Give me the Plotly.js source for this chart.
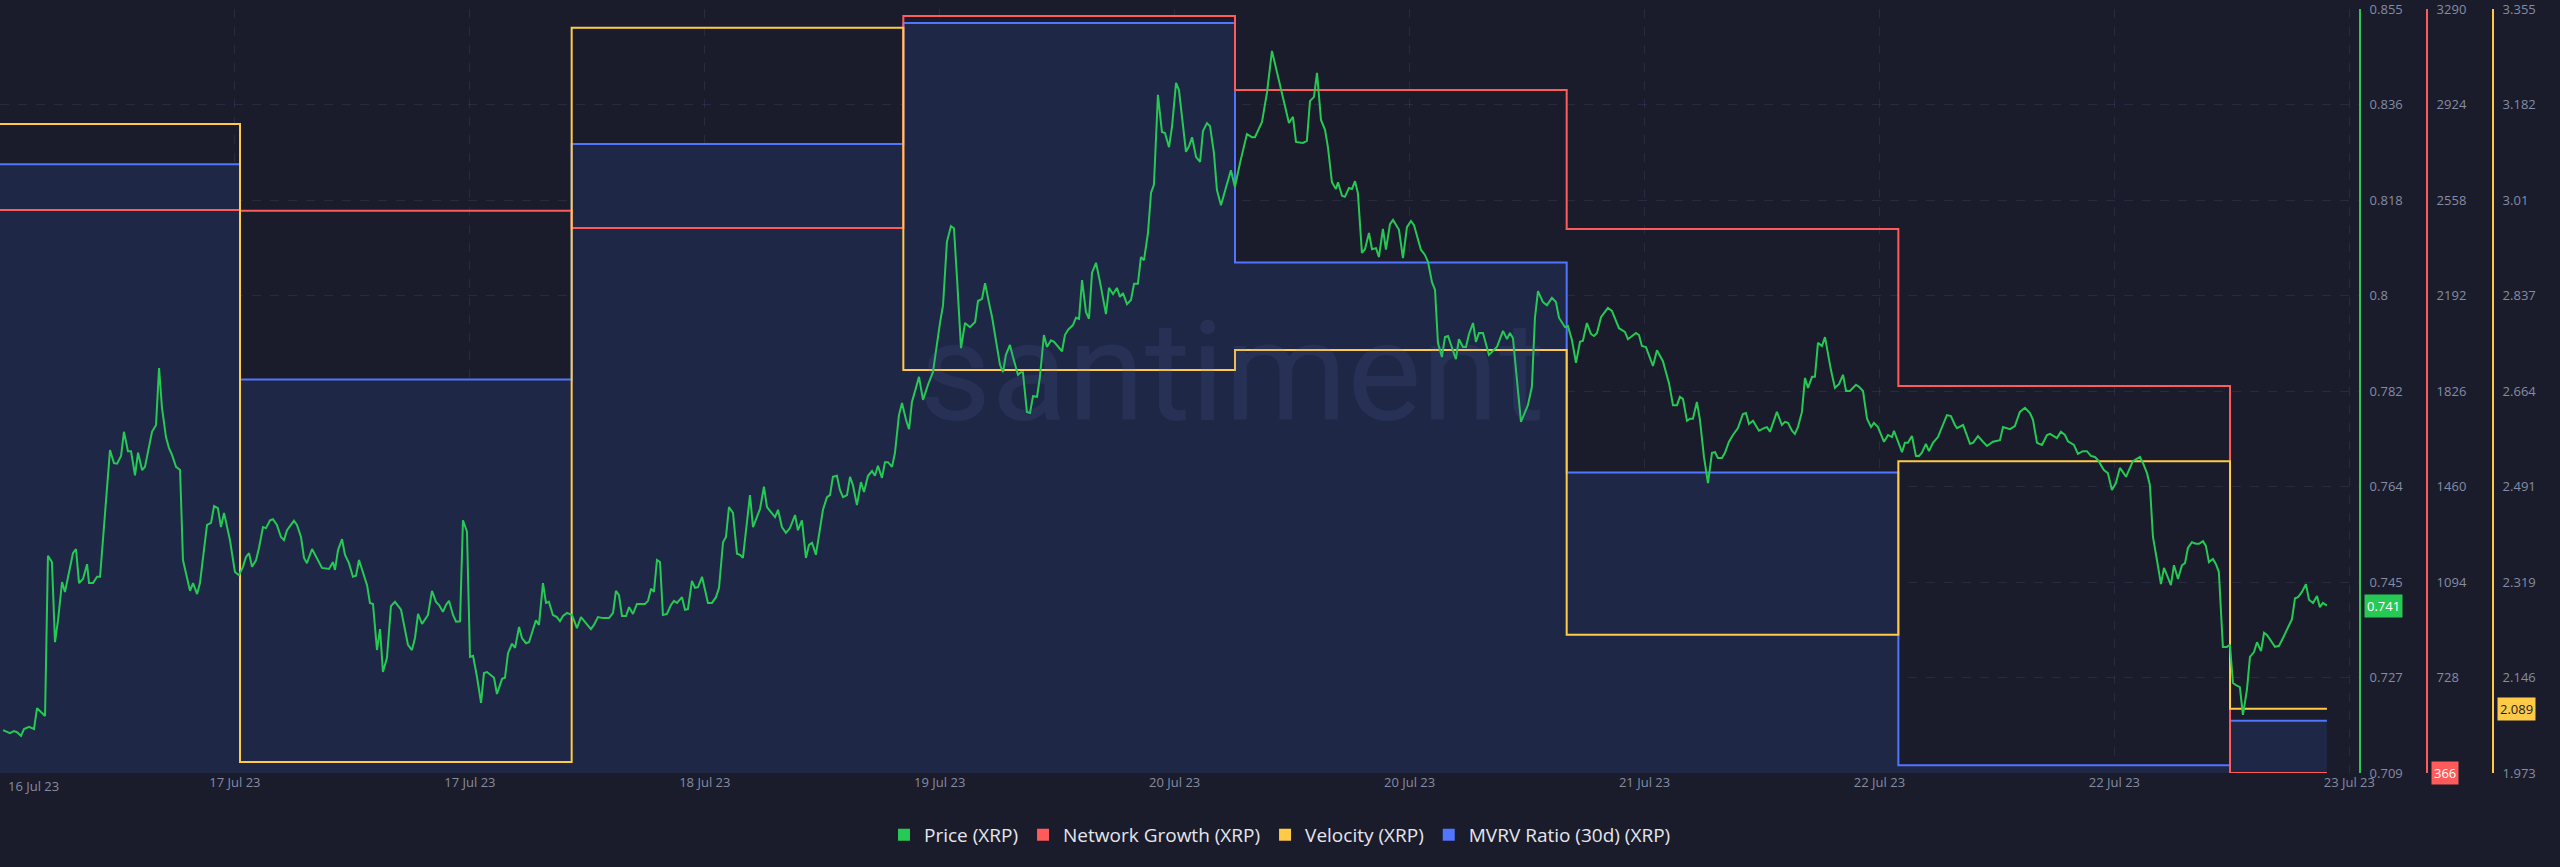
<!DOCTYPE html>
<html>
<head>
<meta charset="utf-8">
<script src="https://cdn.plot.ly/plotly-3.0.1.min.js"></script>
<style>
  html, body { margin: 0; padding: 0; background: #1a1b2b; }
  #chart { width: 2560px; height: 867px; }
</style>
</head>
<body>
<div id="chart"></div>
<script>
// ---------- DATA ----------
// hours after the first visible moment (16 Jul 23, 11:38) for each price sample
const priceHours = [
0.22,0.72,1.01,1.23,1.52,1.74,2.10,2.46,2.68,3.26,
3.47,3.76,3.98,4.20,4.49,4.70,5.28,5.50,5.72,6.01,
6.30,6.44,6.73,7.02,7.24,7.96,8.25,8.47,8.76,8.97,
9.26,9.48,9.77,9.99,10.28,10.49,11.00,11.29,11.51,11.72,
12.01,12.23,12.45,12.74,13.03,13.24,13.75,13.97,14.26,14.47,
14.98,15.27,15.49,15.77,15.99,16.21,16.64,17.00,17.29,17.58,
17.80,18.02,18.24,18.53,18.74,19.03,19.25,19.54,19.75,20.04,
20.33,20.55,20.77,21.27,21.49,21.78,22.00,22.21,22.58,22.87,
23.30,23.81,24.10,24.24,24.46,24.75,24.96,25.25,25.54,25.76,
25.98,26.56,26.77,26.99,27.28,27.50,27.71,28.00,28.29,28.58,
29.02,29.52,29.81,30.03,30.25,30.54,30.97,31.26,31.55,31.77,
32.05,32.27,32.49,32.78,33.00,33.29,33.50,33.79,34.01,34.23,
34.52,34.81,35.02,35.24,35.75,35.96,36.33,36.54,36.76,37.05,
37.27,37.56,37.77,38.06,38.28,38.78,39.00,39.29,39.51,39.72,
40.01,40.30,40.52,40.74,41.03,41.39,41.75,42.04,42.33,42.76,
42.98,43.27,43.63,44.07,44.36,44.57,44.79,45.01,45.30,45.52,
45.80,46.09,46.45,46.67,46.89,47.11,47.32,47.54,47.76,47.97,
48.26,48.55,48.77,48.99,49.35,49.57,49.78,50.07,50.29,50.51,
50.80,51.23,51.52,51.81,52.03,52.32,52.53,52.75,53.04,53.33,
53.55,53.76,54.27,54.49,55.00,55.28,55.50,56.08,56.30,56.58,
56.87,57.16,57.53,57.74,58.03,58.32,58.54,58.76,59.04,59.55,
59.84,60.06,60.27,60.56,60.78,61.00,61.29,61.51,61.72,62.01,
62.30,62.52,62.81,63.10,63.31,63.53,63.82,64.04,64.26,64.55,
64.76,65.05,65.27,65.56,65.78,65.99,66.28,66.50,66.79,67.15,
67.51,67.80,68.02,68.24,68.52,68.81,69.03,69.25,69.54,69.83,
70.19,70.56,70.77,71.06,71.28,71.57,71.79,72.36,72.58,72.79,
73.08,73.30,73.66,73.88,74.02,74.31,74.53,74.75,75.04,75.25,
75.54,75.76,76.05,76.27,76.56,76.85,77.06,77.28,77.64,77.86,
78.08,78.30,78.58,78.80,79.02,79.31,79.60,80.03,80.25,80.54,
80.82,81.04,81.26,81.55,81.84,82.06,82.34,82.56,82.78,83.07,
83.29,83.50,83.79,84.08,84.30,84.59,84.81,85.10,85.31,85.82,
86.04,86.26,86.55,86.84,87.05,87.34,87.56,87.84,88.06,88.35,
89.07,89.36,89.73,90.23,90.59,90.81,91.32,91.68,92.04,92.40,
92.84,93.27,93.56,93.78,94.28,94.57,94.79,95.08,95.30,95.59,
95.88,96.09,96.38,96.67,96.82,97.11,97.32,97.61,97.83,98.05,
98.26,98.55,98.77,99.06,99.28,99.57,99.78,100.07,100.29,100.58,
100.80,101.23,101.52,101.81,102.10,102.32,102.82,103.11,103.33,103.62,
103.84,104.05,104.34,104.56,104.78,105.35,105.57,105.86,106.08,106.30,
106.59,106.80,107.02,107.31,107.74,108.32,108.76,109.05,109.26,109.48,
110.06,110.56,110.85,111.07,111.29,111.65,111.94,112.30,112.59,112.81,
113.24,113.46,113.75,114.04,114.33,114.54,114.83,115.12,115.34,115.56,
115.85,116.35,116.64,117.15,117.58,117.80,118.38,118.60,118.81,119.10,
119.61,119.90,120.33,120.77,121.06,121.35,121.56,121.78,122.07,122.29,
122.50,122.79,123.01,123.30,123.59,123.88,124.10,124.31,124.60,124.82,
125.11,125.40,125.76,126.12,126.34,126.56,126.85,127.28,127.64,127.86,
128.08,128.58,128.94,129.16,129.38,129.67,129.88,130.10,130.39,130.61,
130.83,131.12,131.33,131.55,131.84,132.06,132.49,132.78,133.07,133.36,
133.58,133.86,134.30,134.52,134.81,135.10,135.39,135.60,135.89,136.33,
136.62,136.91,137.05,137.63,137.84,138.06,138.35,138.64,138.86,139.07,
139.36,139.58,139.87,140.23,140.88,141.17,141.46,141.61,142.05,142.55,
142.77,143.13,143.49,143.78,144.21,144.72,144.94,145.44,145.80,146.16,
146.53,146.89,147.11,147.40,147.76,148.12,148.34,148.84,149.13,149.42,
149.64,150.07,150.36,150.72,151.01,151.30,151.59,151.81,152.10,152.24,
152.53,152.82,153.11,153.40,153.62,153.84,154.34,154.85,155.07,155.36,
155.57,155.79,156.08,156.37,156.59,156.80,157.09,157.31,157.60,157.89,
158.11,158.32,158.61,158.90,159.12,159.41,159.62,159.84,160.13,160.35,
160.56,160.85,161.14,161.36,161.58,161.80,162.08,162.30,162.59,162.81,
163.10,163.32,163.61,163.83,164.04,164.62,164.91,165.20,165.49,165.85,
166.07,166.29,166.57,166.86,167.08,167.37,167.66,167.87,168.09,168.38
];
const priceValues = [
.7172,.7166,.7170,.7168,.7161,.7174,.7178,.7174,.7214,.7199,
.7505,.7493,.7340,.7382,.7455,.7436,.7510,.7518,.7453,.7461,
.7489,.7453,.7453,.7465,.7465,.7707,.7682,.7681,.7696,.7742,
.7705,.7705,.7659,.7702,.7669,.7675,.7742,.7755,.7864,.7788,
.7732,.7711,.7698,.7675,.7669,.7497,.7438,.7453,.7432,.7453,
.7564,.7568,.7600,.7596,.7560,.7587,.7535,.7474,.7468,.7484,
.7503,.7510,.7484,.7497,.7520,.7560,.7558,.7573,.7575,.7564,
.7541,.7535,.7554,.7572,.7564,.7541,.7501,.7491,.7518,.7503,
.7482,.7480,.7493,.7478,.7516,.7537,.7507,.7491,.7465,.7467,
.7497,.7449,.7415,.7413,.7325,.7365,.7283,.7310,.7409,.7417,
.7402,.7335,.7325,.7348,.7394,.7375,.7392,.7438,.7417,.7411,
.7398,.7411,.7419,.7392,.7379,.7380,.7573,.7551,.7312,.7314,
.7273,.7224,.7281,.7283,.7272,.7241,.7270,.7272,.7319,.7337,
.7329,.7369,.7348,.7338,.7340,.7382,.7373,.7453,.7415,.7417,
.7392,.7388,.7380,.7390,.7396,.7392,.7367,.7388,.7379,.7365,
.7373,.7388,.7386,.7386,.7396,.7438,.7430,.7390,.7390,.7407,
.7394,.7413,.7413,.7413,.7419,.7442,.7436,.7497,.7493,.7392,
.7394,.7411,.7419,.7415,.7426,.7402,.7403,.7457,.7444,.7445,
.7465,.7415,.7415,.7426,.7444,.7531,.7541,.7598,.7587,.7509,
.7507,.7501,.7621,.7560,.7595,.7637,.7598,.7579,.7593,.7560,
.7549,.7558,.7583,.7554,.7573,.7501,.7526,.7530,.7507,.7593,
.7617,.7621,.7656,.7658,.7631,.7617,.7621,.7656,.7640,.7602,
.7646,.7627,.7658,.7667,.7658,.7677,.7654,.7684,.7684,.7675,
.7702,.7774,.7797,.7765,.7747,.7799,.7826,.7847,.7803,.7832,
.7856,.7912,.7950,.7984,.8105,.8135,.8131,.8036,.7902,.7950,
.7942,.7952,.7992,.7996,.8026,.7988,.7961,.7870,.7856,.7889,
.7908,.7885,.7851,.7856,.7856,.7780,.7778,.7810,.7809,.7847,
.7927,.7904,.7917,.7914,.7904,.7896,.7927,.7937,.7946,.7960,
.7958,.8032,.7971,.7958,.8046,.8065,.8028,.7967,.8017,.8005,
.8017,.8000,.8007,.7986,.7994,.8025,.8025,.8076,.8070,.8122,
.8199,.8214,.8386,.8315,.8313,.8286,.8325,.8409,.8395,.8277,
.8288,.8305,.8267,.8258,.8317,.8332,.8326,.8275,.8204,.8175,
.8242,.8210,.8256,.8311,.8305,.8305,.8334,.8390,.8470,.8428,
.8380,.8332,.8344,.8296,.8294,.8298,.8374,.8382,.8428,.8338,
.8319,.8286,.8219,.8206,.8219,.8193,.8191,.8208,.8206,.8221,
.8198,.8084,.8091,.8122,.8091,.8093,.8076,.8130,.8090,.8139,
.8147,.8128,.8074,.8133,.8145,.8137,.8090,.8080,.8067,.8028,
.8013,.7912,.7885,.7923,.7925,.7881,.7919,.7904,.7904,.7929,
.7950,.7914,.7931,.7931,.7889,.7904,.7935,.7919,.7931,.7921,
.7761,.7793,.7828,.7960,.8011,.7990,.7984,.7998,.7990,.7960,
.7942,.7944,.7917,.7874,.7914,.7916,.7950,.7929,.7925,.7931,
.7961,.7979,.7973,.7940,.7933,.7919,.7931,.7927,.7906,.7904,
.7868,.7898,.7877,.7835,.7793,.7793,.7809,.7805,.7763,.7767,
.7767,.7799,.7765,.7694,.7644,.7702,.7703,.7692,.7692,.7702,
.7723,.7736,.7749,.7776,.7778,.7757,.7763,.7744,.7749,.7751,
.7742,.7780,.7755,.7761,.7759,.7744,.7738,.7751,.7780,.7845,
.7826,.7847,.7847,.7912,.7906,.7923,.7860,.7826,.7833,.7851,
.7820,.7820,.7832,.7828,.7820,.7767,.7751,.7759,.7751,.7723,
.7736,.7732,.7744,.7703,.7721,.7721,.7734,.7696,.7696,.7702,
.7719,.7705,.7721,.7732,.7774,.7772,.7755,.7749,.7755,.7719,
.7721,.7734,.7723,.7715,.7723,.7726,.7751,.7747,.7753,.7780,
.7788,.7778,.7765,.7721,.7717,.7736,.7738,.7730,.7742,.7736,
.7724,.7717,.7700,.7705,.7705,.7696,.7694,.7688,.7675,.7669,
.7663,.7631,.7644,.7673,.7665,.7656,.7686,.7694,.7682,.7663,
.7640,.7541,.7497,.7451,.7482,.7468,.7449,.7487,.7461,.7487,
.7491,.7520,.7531,.7528,.7528,.7533,.7524,.7493,.7499,.7489,
.7474,.7331,.7331,.7335,.7262,.7258,.7254,.7201,.7249,.7312,
.7321,.7340,.7323,.7358,.7354,.7331,.7333,.7348,.7365,.7384,
.7424,.7426,.7436,.7451,.7421,.7415,.7428,.7407,.7415,.7410
];

// daily metrics
const dailyDates    = ['2023-07-16 05:00','2023-07-17 05:00','2023-07-18 05:00','2023-07-19 05:00',
                       '2023-07-20 05:00','2023-07-21 05:00','2023-07-22 05:00','2023-07-23 05:00'];
const networkGrowth = [2521, 2518, 2452, 3263, 2980, 2448, 1847, 366];
const velocity      = [3.147, 1.993, 3.321, 2.702, 2.738, 2.223, 2.537, 2.089];
const mvrv30d       = [1.478, 1.309, 1.494, 1.589, 1.401, 1.236, 1.006, 1.041];

// axis tick labels
const priceTickLabels    = ['0.709','0.727','0.745','0.764','0.782','0.8','0.818','0.836','0.855'];
const networkTickLabels  = ['','728','1094','1460','1826','2192','2558','2924','3290'];
const velocityTickLabels = ['1.973','2.146','2.319','2.491','2.664','2.837','3.01','3.182','3.355'];
const dateTickLabels     = ['16 Jul 23','17 Jul 23','17 Jul 23','18 Jul 23','19 Jul 23','20 Jul 23',
                            '20 Jul 23','21 Jul 23','22 Jul 23','22 Jul 23','23 Jul 23'];

const seriesNames = ['Price (XRP)','Network Growth (XRP)','Velocity (XRP)','MVRV Ratio (30d) (XRP)'];

// ---------- STYLE / BUILD ----------
const C = { price:'#26c953', net:'#ff5b5b', vel:'#ffcb47', mvrv:'#5275ff' };
const BG = '#1a1b2b';
const H = 3600000;
const t0 = Date.UTC(2023, 6, 16, 11, 38);
const W = 2560;
const plotRight = 2360;
const pxPerHour = 331.67 / 24;
const xEnd = t0 + (plotRight / pxPerHour) * H;

const priceX = priceHours.map(h => t0 + h * H);
const dayX = dailyDates.map(s => Date.parse(s.replace(' ', 'T') + ':00Z'));
const lastT = priceX[priceX.length - 1];
const stepX = dayX.concat([lastT]);
const extend = a => a.concat([a[a.length - 1]]);

const rngPrice = [0.709, 0.855], rngNet = [366, 3290], rngVel = [1.973, 3.355], rngMvrv = [1.0, 1.6];
const even = (r, n) => Array.from({length: n}, (_, k) => k === n - 1 ? r[1] - (r[1] - r[0]) * 1e-6 : r[0] + k * (r[1] - r[0]) / (n - 1));

// layering: base axis 'y' (MVRV) first, then overlays y2, y3, y4 on top
const traces = [
  { x: stepX, y: extend(mvrv30d), yaxis: 'y', type: 'scatter', mode: 'lines',
    line: { shape: 'hv', color: C.mvrv, width: 2 }, fill: 'tozeroy', fillcolor: '#1f2746',
    name: seriesNames[3], showlegend: false },
  { x: stepX, y: extend(velocity), yaxis: 'y3', type: 'scatter', mode: 'lines',
    line: { shape: 'hv', color: C.vel, width: 2 }, name: seriesNames[2], showlegend: false },
  { x: stepX, y: extend(networkGrowth), yaxis: 'y2', type: 'scatter', mode: 'lines',
    line: { shape: 'hv', color: C.net, width: 2 }, name: seriesNames[1], showlegend: false },
  { x: priceX, y: priceValues, yaxis: 'y4', type: 'scatter', mode: 'lines',
    line: { color: C.price, width: 2 }, name: seriesNames[0], showlegend: false },
];
// legend entries (square swatches)
[C.price, C.net, C.vel, C.mvrv].forEach((col, i) => traces.push({
  x: [null], y: [null], yaxis: 'y4', type: 'scatter', mode: 'markers', name: seriesNames[i],
  marker: { symbol: 'square', size: 12, color: col }, showlegend: true
}));

const tickFont = { family: 'Open Sans, sans-serif', size: 13, color: '#858da3' };
const grid = 'rgba(110,125,175,0.16)';
const xTicks = Array.from({length: 10}, (_, k) => t0 + 17 * (k + 1) * H);

const baseY = (rng, labels, pos, color) => ({
  range: rng, anchor: 'free', position: pos / W, side: 'right', overlaying: 'y',
  showline: true, linecolor: color, linewidth: 2,
  tickvals: even(rng, labels.length), ticktext: labels, ticks: '', ticklabeloverflow: 'allow',
  ticklabelstandoff: 6, tickfont: tickFont, zeroline: false, showgrid: false, fixedrange: true
});

const yPrice = baseY(rngPrice, priceTickLabels, 2360, C.price);
yPrice.showgrid = true; yPrice.gridcolor = grid; yPrice.griddash = 'dash';
const yNet = baseY(rngNet, networkTickLabels, 2427, C.net);
const yVel = baseY(rngVel, velocityTickLabels, 2493, C.vel);
const yMv = { range: rngMvrv, visible: false, fixedrange: true, showgrid: false, zeroline: false };

const lastP = priceValues[priceValues.length - 1];
const badge = (txt, yref, y, xpx, bg, fg) => ({
  text: txt, xref: 'paper', x: xpx / W, xanchor: 'left', yref: yref, y: y, yanchor: 'middle',
  showarrow: false, bgcolor: bg, borderpad: 2, font: { family: 'Open Sans, sans-serif', size: 13, color: fg }
});

const layout = {
  width: 2560, height: 867,
  margin: { l: 0, r: 0, t: 9, b: 94 },
  paper_bgcolor: BG, plot_bgcolor: BG,
  xaxis: {
    type: 'date', range: [t0, xEnd], domain: [0, plotRight / W],
    tickvals: xTicks, ticktext: dateTickLabels.slice(1), ticks: '',
    tickfont: tickFont, showgrid: true, gridcolor: grid, griddash: 'dash',
    zeroline: false, showline: false, fixedrange: true
  },
  yaxis: yMv, yaxis2: yNet, yaxis3: yVel, yaxis4: yPrice,
  showlegend: true,
  legend: {
    orientation: 'h', x: 0.5, xanchor: 'center', y: -0.081, yanchor: 'middle',
    font: { family: 'Open Sans, sans-serif', size: 19, color: '#e4e6ee' },
    bgcolor: 'rgba(0,0,0,0)', itemwidth: 30
  },
  annotations: [
    { text: 'santiment', xref: 'paper', yref: 'paper', x: 1232 / W, y: (773 - 372) / 764,
      xanchor: 'center', yanchor: 'middle', showarrow: false,
      font: { family: 'Roboto, sans-serif', size: 140, color: 'rgba(95,115,190,0.13)' } },
    { text: dateTickLabels[0], xref: 'paper', yref: 'paper', x: 33 / W, y: -13 / 764,
      xanchor: 'center', yanchor: 'middle', showarrow: false, font: tickFont },
    badge(lastP.toFixed(3), 'y4', lastP, 2364, C.price, '#ffffff'),
    badge(String(networkGrowth[networkGrowth.length - 1]), 'y2', networkGrowth[networkGrowth.length - 1], 2431, C.net, '#ffffff'),
    badge(velocity[velocity.length - 1].toFixed(3), 'y3', velocity[velocity.length - 1], 2497, C.vel, '#1a1b2b')
  ]
};

Plotly.newPlot('chart', traces, layout, { displayModeBar: false, staticPlot: true });
</script>
</body>
</html>
